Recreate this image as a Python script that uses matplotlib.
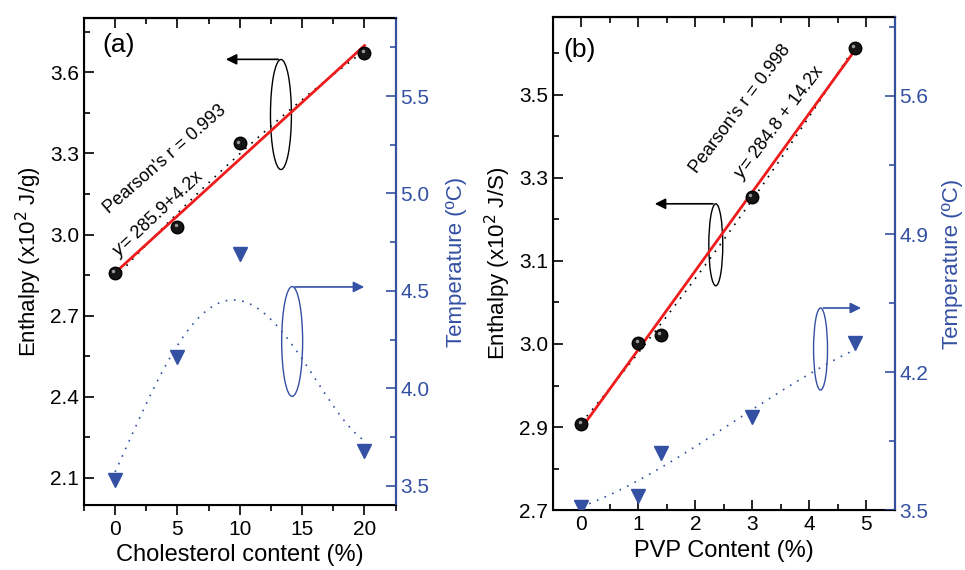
import numpy as np
import matplotlib.pyplot as plt
from matplotlib.patches import Ellipse
from matplotlib.transforms import offset_copy
from matplotlib.ticker import MultipleLocator, FixedLocator, FormatStrFormatter

plt.rcParams['font.family'] = ['Liberation Sans', 'DejaVu Sans']

BLUE = '#3350a3'

# panel (a): cholesterol
chol_x = [0, 5, 10, 20]
chol_enthalpy = [2.859, 3.028, 3.337, 3.673]   # x10^2 J/g
chol_temp = [3.53, 4.16, 4.69, 3.68]           # deg C
chol_fit = (2.859, 0.042)                      # y = 285.9 + 4.2x
# dotted temperature trend
chol_trend_x = [0, 5, 10, 15, 20]
chol_trend = [3.57, 4.22, 4.45, 4.15, 3.73]

# panel (b): PVP
pvp_x = [0, 1, 1.4, 3, 4.8]
pvp_enthalpy = [2.856, 3.002, 3.017, 3.265, 3.535]
pvp_temp = [3.517, 3.57, 3.79, 3.97, 4.35]
pvp_fit = (2.848, 0.142)                       # y = 284.8 + 14.2x
pvp_trend_x = [0, 1, 1.4, 3, 4.2, 4.8]
pvp_trend = [3.52, 3.63, 3.74, 4.0, 4.23, 4.31]

fig = plt.figure(figsize=(9.65, 5.7), dpi=100)
ax1 = fig.add_axes([0.087, 0.114, 0.323, 0.854])
ax2 = ax1.twinx()
ax3 = fig.add_axes([0.573, 0.105, 0.354, 0.865])
ax4 = ax3.twinx()

dots = (0, (1, 4))


def draw_panel(axl, axr, x, enth, temp, fit, tx, ty, tdeg):
    xx = np.linspace(min(x), max(x), 100)
    # black dotted trend and red linear fit
    p = np.polyfit(x, enth, 2)
    axl.plot(xx, np.polyval(p, xx), color='black', lw=1.2, ls=dots)
    axl.plot([min(x), max(x)], [fit[0] + fit[1] * min(x), fit[0] + fit[1] * max(x)],
             color='#ee1c1c', lw=2)
    axl.plot(x, enth, 'o', color='#151515', ms=9, mec='#000000', zorder=3)
    shine = offset_copy(axl.transData, fig=fig, x=-1.3, y=1.3, units='points')
    axl.plot(x, enth, 'o', color='#9a9a9a', ms=2.5, mew=0, transform=shine, zorder=4)
    # blue dotted trend and temperature markers
    q = np.polyfit(tx, ty, tdeg)
    axr.plot(xx, np.polyval(q, xx), color=BLUE, lw=1.2, ls=dots)
    axr.plot(x, temp, 'v', color=BLUE, ms=10)


draw_panel(ax1, ax2, chol_x, chol_enthalpy, chol_temp, chol_fit, chol_trend_x, chol_trend, 4)
draw_panel(ax3, ax4, pvp_x, pvp_enthalpy, pvp_temp, pvp_fit, pvp_trend_x, pvp_trend, 3)

# axes (a)
ax1.set_xlim(-2.5, 22.5)
ax1.set_ylim(2.0, 3.8)
ax2.set_ylim(3.4, 5.9)
ax1.xaxis.set_major_locator(MultipleLocator(5))
ax1.xaxis.set_minor_locator(MultipleLocator(2.5))
ax1.yaxis.set_major_locator(FixedLocator([2.1, 2.4, 2.7, 3.0, 3.3, 3.6]))
ax1.yaxis.set_minor_locator(MultipleLocator(0.15))
ax1.yaxis.set_major_formatter(FormatStrFormatter('%.1f'))
ax2.yaxis.set_major_locator(MultipleLocator(0.5))
ax2.yaxis.set_minor_locator(MultipleLocator(0.25))
ax2.yaxis.set_major_formatter(FormatStrFormatter('%.1f'))
ax1.tick_params(axis='x', which='both', direction='out', top=False)
ax1.tick_params(axis='y', which='both', direction='in')
ax1.set_xlabel('Cholesterol content (%)', fontsize=17)
ax1.set_ylabel('Enthalpy (x10$^2$ J/g)', fontsize=16)
ax2.set_ylabel('Temperature (ºC)', fontsize=16, color=BLUE, labelpad=12)
ax1.text(0.06, 0.93, '(a)', transform=ax1.transAxes, fontsize=19)
ax1.text(-1.2, 3.08, "Pearson's r = 0.993", rotation=41, fontsize=13)
ax1.text(-0.6, 2.92, '$y$= 285.9+4.2x', rotation=43, fontsize=13)
# mirrored top ticks pointing in
top1 = ax1.secondary_xaxis('top')
top1.xaxis.set_major_locator(MultipleLocator(5))
top1.xaxis.set_minor_locator(MultipleLocator(2.5))
top1.tick_params(axis='x', which='both', direction='in', labeltop=False)

# axes (b)
ax3.set_xlim(-0.5, 5.5)
ax3.set_ylim(2.7, 3.59)
ax4.set_ylim(3.5, 6.0)
ax3.xaxis.set_major_locator(MultipleLocator(1))
ax3.xaxis.set_minor_locator(MultipleLocator(0.5))
ax3.yaxis.set_major_locator(FixedLocator([2.70, 2.85, 3.00, 3.15, 3.30, 3.45]))
ax3.yaxis.set_minor_locator(FixedLocator([2.775, 2.925, 3.075, 3.225, 3.375, 3.525]))
ax3.yaxis.set_major_formatter(FormatStrFormatter('%.1f'))
ax4.yaxis.set_major_locator(FixedLocator([3.5, 4.2, 4.9, 5.6]))
ax4.yaxis.set_minor_locator(FixedLocator([3.85, 4.55, 5.25, 5.95]))
ax4.yaxis.set_major_formatter(FormatStrFormatter('%.1f'))
ax3.tick_params(axis='both', which='both', direction='in')
ax3.set_xlabel('PVP Content (%)', fontsize=17)
ax3.set_ylabel('Enthalpy (x10$^2$ J/S)', fontsize=16)
ax4.set_ylabel('Temperature (ºC)', fontsize=16, color=BLUE, labelpad=10)
ax3.text(0.03, 0.92, '(b)', transform=ax3.transAxes, fontsize=19)
ax3.text(1.85, 3.31, "Pearson's r = 0.998", rotation=53, fontsize=13)
ax3.text(2.6, 3.30, '$y$= 284.8 + 14.2x', rotation=53, fontsize=13)
top3 = ax3.secondary_xaxis('top')
top3.xaxis.set_major_locator(MultipleLocator(1))
top3.xaxis.set_minor_locator(MultipleLocator(0.5))
top3.tick_params(axis='x', which='both', direction='in', labeltop=False)

for ax in (ax1, ax3):
    ax.tick_params(which='major', length=7, width=1.2, labelsize=15)
    ax.tick_params(which='minor', length=4, width=1.2)
    for s in ax.spines.values():
        s.set_linewidth(1.5)
for top in (top1, top3):
    top.tick_params(which='major', length=7, width=1.2)
    top.tick_params(which='minor', length=4, width=1.2)
    top.spines['top'].set_linewidth(1.5)
for ax in (ax2, ax4):
    ax.tick_params(axis='y', which='both', direction='in', colors=BLUE, labelsize=15, width=1.2)
    ax.tick_params(which='major', length=7)
    ax.tick_params(which='minor', length=4)
    ax.spines['right'].set_color(BLUE)
    ax.spines['right'].set_linewidth(1.5)

# ellipse + arrow markers pointing to the relevant axis
ann = [(ax1, 13.3, 3.444, 1.68, 0.407, 3.648, 8.66, 'black'),
       (ax2, 14.2, 4.24, 1.68, 0.564, 4.52, 20.2, BLUE),
       (ax3, 2.36, 3.179, 0.245, 0.148, 3.253, 1.24, 'black'),
       (ax4, 4.2, 4.317, 0.245, 0.416, 4.525, 4.96, BLUE)]
for ax, cx, cy, w, h, ay, tx, c in ann:
    ax.add_patch(Ellipse((cx, cy), w, h, fill=False, ec=c, lw=1))
    ax.annotate('', xy=(tx, ay), xytext=(cx, ay),
                arrowprops=dict(arrowstyle='-|>', color=c, lw=1.2, mutation_scale=16))

fig.savefig('out.png', dpi=100)
